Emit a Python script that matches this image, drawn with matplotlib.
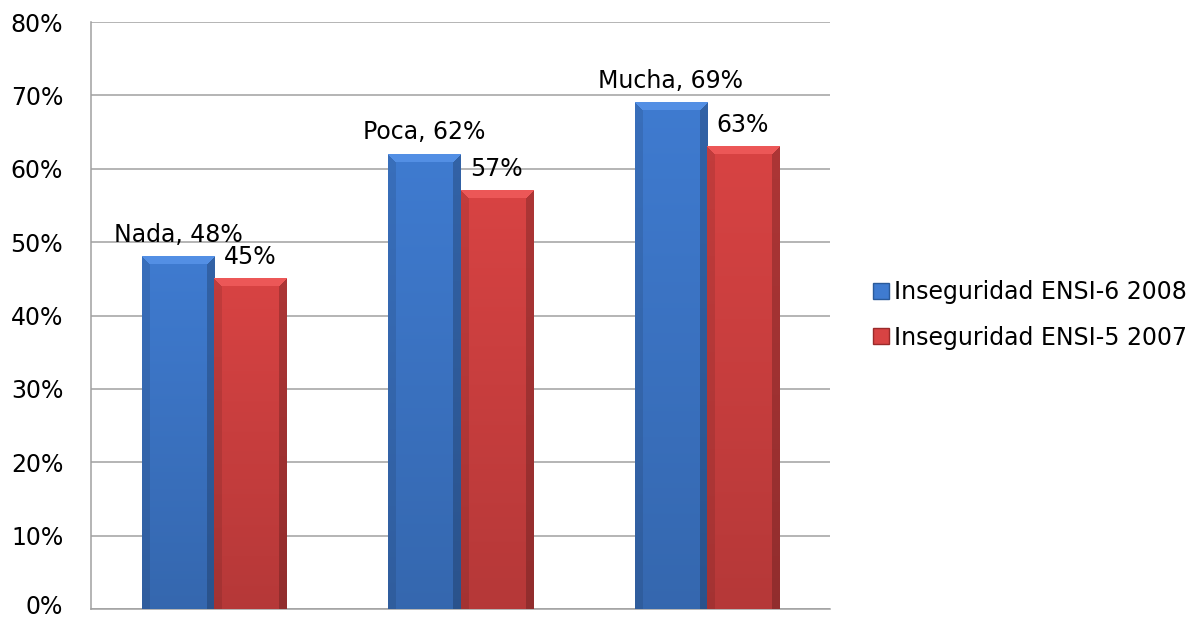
import numpy as np
import matplotlib
matplotlib.use("Agg")
import matplotlib.pyplot as plt
from matplotlib.patches import Rectangle
from matplotlib.colors import to_rgb
from matplotlib.transforms import ScaledTranslation

categories = ["Nada", "Poca", "Mucha"]
series_names = ["Inseguridad ENSI-6 2008", "Inseguridad ENSI-5 2007"]
values_2008 = [48, 62, 69]
values_2007 = [45, 57, 63]
yticks = [0, 10, 20, 30, 40, 50, 60, 70, 80]

BLUE = "#3f7bd0"
RED = "#d84343"
FS = 17
plt.rcParams['font.family'] = ['DejaVu Sans']

W, H, DPI = 1191, 619, 100
fig = plt.figure(figsize=(W / DPI, H / DPI), dpi=DPI)
ax = fig.add_axes([91 / W, 1 - 609 / H, (830 - 91) / W, (609 - 22) / H])

x = np.arange(len(categories))
bw = 0.293
b1 = ax.bar(x - bw / 2, values_2008, bw, color=BLUE, zorder=2)
b2 = ax.bar(x + bw / 2, values_2007, bw, color=RED, zorder=2)

ax.set_xlim(-0.5, len(categories) - 0.5)
ax.set_ylim(0, 80)
ax.set_yticks(yticks)
ax.set_yticklabels([f"{t}%" for t in yticks], fontsize=FS)
ax.set_xticks([])
ax.yaxis.grid(True, color="#a0a0a0", linewidth=1.1, zorder=0)
ax.set_axisbelow(True)
for s in ["top", "right"]:
    ax.spines[s].set_visible(False)
for s in ["left", "bottom"]:
    ax.spines[s].set_color("#a0a0a0")
    ax.spines[s].set_linewidth(1.1)
ax.tick_params(axis="y", length=0, pad=20)


def bevel_image(color, pw, ph, b=8):
    base = np.array(to_rgb(color))
    rows = np.arange(ph)[:, None]
    cols = np.arange(pw)[None, :]
    frac = rows / max(ph - 1, 1)
    shade = 1.0 - 0.16 * frac + 0 * cols
    img = base[None, None, :] * shade[..., None]
    t = rows + 0 * cols
    l = cols + 0 * rows
    r = (pw - 1 - cols) + 0 * rows
    m = np.minimum(np.minimum(t, l), r)
    top = (m < b) & (t == m)
    left = (m < b) & (l == m) & ~top
    right = (m < b) & (r == m) & ~top & ~left
    img[top] = np.clip(base + 0.08, 0, 1)
    img[left] = img[left] * 0.9
    img[right] = img[right] * 0.8
    return np.clip(img, 0, 1)


fig.canvas.draw()
for bars, col in ((b1, BLUE), (b2, RED)):
    for rect in bars:
        x0, y0 = rect.get_x(), rect.get_y()
        w, h = rect.get_width(), rect.get_height()
        p0 = ax.transData.transform((x0, y0))
        p1 = ax.transData.transform((x0 + w, y0 + h))
        pw = max(int(round(p1[0] - p0[0])), 2)
        ph = max(int(round(p1[1] - p0[1])), 2)
        img = bevel_image(col, pw, ph)
        ax.imshow(img, extent=(x0, x0 + w, y0, y0 + h), aspect="auto",
                  zorder=3, interpolation="nearest")
ax.set_xlim(-0.5, len(categories) - 0.5)
ax.set_ylim(0, 80)

# nudge the bottom "0%" label up slightly so it stays inside the canvas
lbl0 = ax.yaxis.get_major_ticks()[0].label1
lbl0.set_transform(lbl0.get_transform() +
                   ScaledTranslation(0, 4 / DPI, fig.dpi_scale_trans))

for i, rect in enumerate(b1):
    ax.annotate(f"{categories[i]}, {values_2008[i]}%",
                (rect.get_x() + rect.get_width() / 2, rect.get_height()),
                xytext=(0, 15), textcoords="offset pixels",
                ha="center", va="baseline", fontsize=FS, zorder=5)
for i, rect in enumerate(b2):
    ax.annotate(f"{values_2007[i]}%",
                (rect.get_x() + rect.get_width() / 2, rect.get_height()),
                xytext=(0, 15), textcoords="offset pixels",
                ha="center", va="baseline", fontsize=FS, zorder=5)

handles = [Rectangle((0, 0), 1, 1, facecolor=BLUE, edgecolor="#2a5a9a"),
           Rectangle((0, 0), 1, 1, facecolor=RED, edgecolor="#9a2a2a")]
fig.legend(handles, series_names, loc="center left",
           bbox_to_anchor=(873 / W, 1 - 315 / H), frameon=False,
           fontsize=FS, handlelength=0.68, handleheight=0.68,
           handletextpad=0.2, labelspacing=0.9, borderaxespad=0,
           borderpad=0)

fig.savefig("out.png", dpi=DPI)
